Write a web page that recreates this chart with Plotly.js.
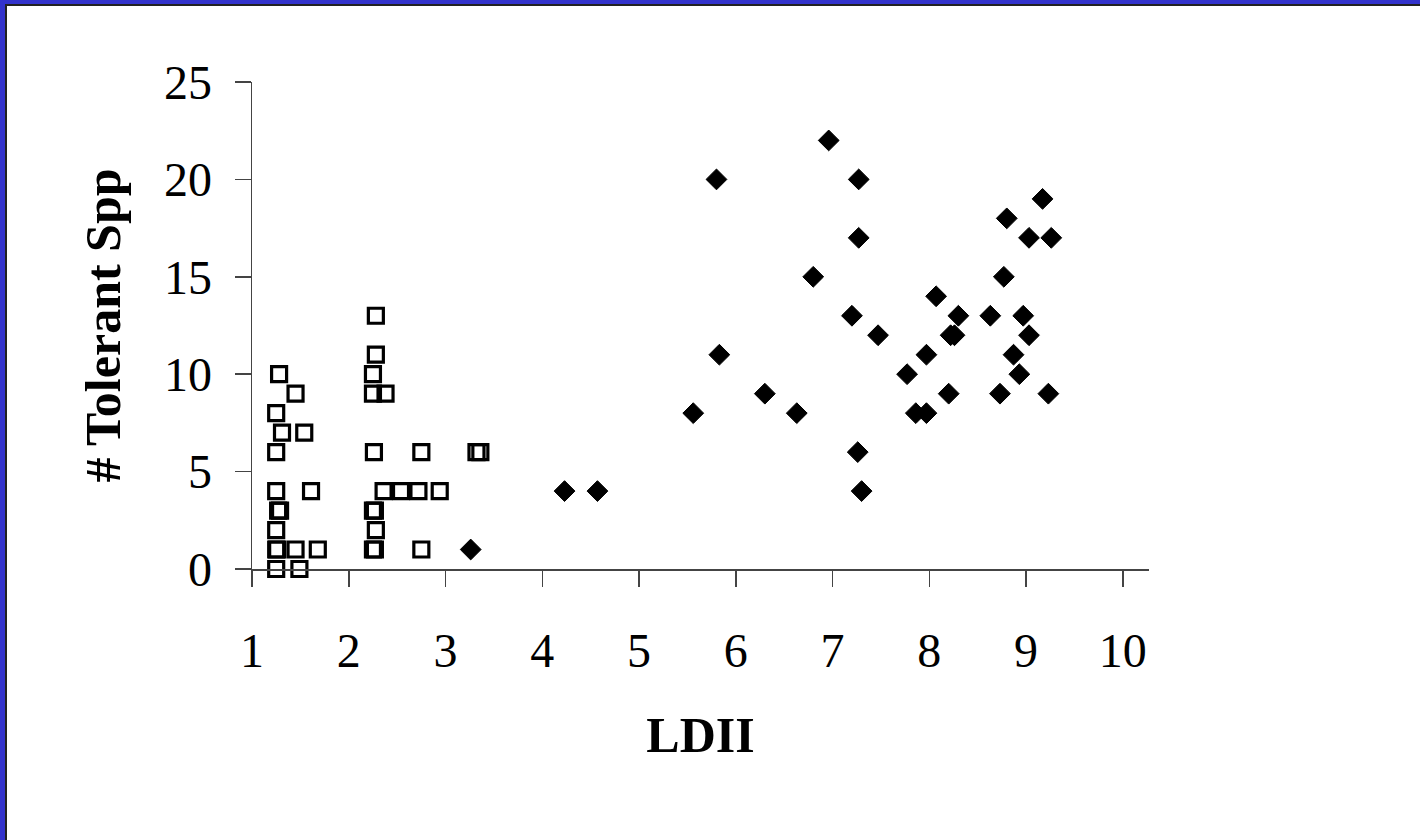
<!DOCTYPE html>
<html>
<head>
<meta charset="utf-8">
<script src="https://cdn.plot.ly/plotly-3.0.1.min.js"></script>
<style>
  html, body { margin: 0; padding: 0; background: #ffffff; overflow: hidden; }
  #chart { position: absolute; left: 0; top: 0; width: 1420px; height: 840px; }
  .bar { position: absolute; pointer-events: none; }
</style>
</head>
<body>
<div id="chart"></div>
<div class="bar" style="left:0;top:0;width:1420px;height:4px;background:#3333cc;"></div>
<div class="bar" style="left:0;top:0;width:5px;height:840px;background:#3333cc;"></div>
<div class="bar" style="left:5px;top:4px;width:1415px;height:2px;background:#222;"></div>
<div class="bar" style="left:5px;top:4px;width:2px;height:836px;background:#222;"></div>
<script>
// Open squares series
const squaresX = [2.28, 2.28, 2.25, 1.28, 1.45, 2.25, 2.38, 1.25, 1.31, 1.54,
                  1.25, 2.26, 2.75, 3.32, 3.36, 1.25, 1.61, 2.36, 2.54, 2.72,
                  2.94, 1.27, 1.29, 2.25, 2.27, 1.25, 2.28, 1.25, 1.26, 1.45,
                  1.68, 2.25, 2.27, 2.75, 1.25, 1.49];
const squaresY = [13, 11, 10, 10, 9, 9, 9, 8, 7, 7,
                  6, 6, 6, 6, 6, 4, 4, 4, 4, 4,
                  4, 3, 3, 3, 3, 2, 2, 1, 1, 1,
                  1, 1, 1, 1, 0, 0];
// Filled diamonds series
const diamondsX = [3.26, 4.23, 4.57, 5.56, 5.80, 5.83, 6.30, 6.63, 6.80, 6.96,
                   7.20, 7.26, 7.27, 7.27, 7.30, 7.47, 7.77, 7.86, 7.97, 7.97,
                   8.07, 8.20, 8.22, 8.26, 8.30, 8.63, 8.73, 8.77, 8.80, 8.87,
                   8.93, 8.97, 9.03, 9.03, 9.17, 9.23, 9.26];
const diamondsY = [1, 4, 4, 8, 20, 11, 9, 8, 15, 22,
                   13, 6, 20, 17, 4, 12, 10, 8, 8, 11,
                   14, 9, 12, 12, 13, 13, 9, 15, 18, 11,
                   10, 13, 17, 12, 19, 9, 17];
const xTicks = [1, 2, 3, 4, 5, 6, 7, 8, 9, 10];
const yTicks = [0, 5, 10, 15, 20, 25];
const xTitle = 'LDII';
const yTitle = '# Tolerant Spp';

const serif = 'Liberation Serif, Times New Roman, serif';
const axisColor = '#444';

const traces = [
  {
    x: squaresX, y: squaresY, type: 'scatter', mode: 'markers', cliponaxis: false,
    marker: { symbol: 'square-open', size: 15, color: '#000', line: { width: 3.2, color: '#000' } },
    showlegend: false, hoverinfo: 'x+y'
  },
  {
    x: diamondsX, y: diamondsY, type: 'scatter', mode: 'markers', cliponaxis: false,
    marker: { symbol: 'diamond', size: 16, color: '#000', line: { width: 1, color: '#000' } },
    showlegend: false, hoverinfo: 'x+y'
  }
];

const layout = {
  width: 1420, height: 840,
  paper_bgcolor: '#ffffff', plot_bgcolor: '#ffffff',
  margin: { l: 252, r: 270.7, t: 82, b: 270.7, pad: 0 },
  showlegend: false,
  font: { family: serif, color: '#000' },
  xaxis: {
    range: [1, 10.27], tickvals: xTicks, ticktext: xTicks.map(String),
    showgrid: false, zeroline: false, showline: true, linecolor: axisColor, linewidth: 1.5,
    ticks: 'outside', ticklen: 16, tickwidth: 1.5, tickcolor: axisColor,
    tickfont: { family: serif, size: 48, color: '#000' },
    ticklabelstandoff: 23,
    title: { text: '<b>' + xTitle + '</b>', font: { family: serif, size: 50, color: '#000' }, standoff: 41 }
  },
  yaxis: {
    range: [0, 25], tickvals: yTicks, ticktext: yTicks.map(String),
    showgrid: false, zeroline: false, showline: true, linecolor: axisColor, linewidth: 1.5,
    ticks: 'outside', ticklen: 16, tickwidth: 1.5, tickcolor: axisColor,
    tickfont: { family: serif, size: 48, color: '#000' },
    ticklabelstandoff: 13,
    title: { text: '<b>' + yTitle + '</b>', font: { family: serif, size: 50, color: '#000' }, standoff: 27 }
  }
};

Plotly.newPlot('chart', traces, layout, { displayModeBar: false, staticPlot: true });
</script>
</body>
</html>
